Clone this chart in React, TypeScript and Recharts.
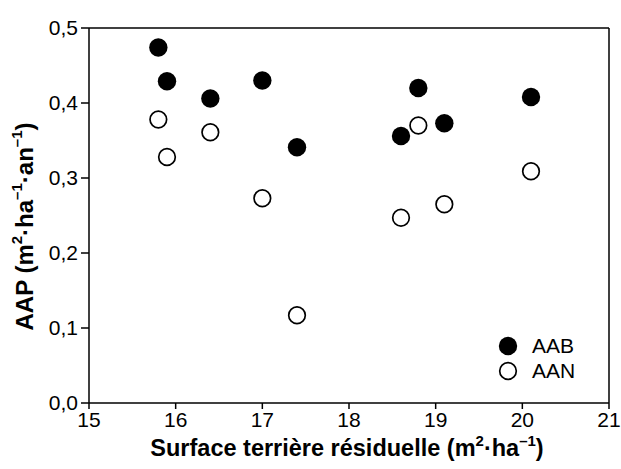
import React from 'react';
import { ScatterChart, Scatter, XAxis, YAxis, Label } from 'recharts';

const xValues = [15.8, 15.9, 16.4, 17.0, 17.4, 18.6, 18.8, 19.1, 20.1];
const aabValues = [0.474, 0.429, 0.406, 0.43, 0.341, 0.356, 0.42, 0.373, 0.408];
const aanValues = [0.378, 0.328, 0.361, 0.273, 0.117, 0.247, 0.37, 0.265, 0.309];
const xTicks = [15, 16, 17, 18, 19, 20, 21];
const yTicks = [0, 0.1, 0.2, 0.3, 0.4, 0.5];
const seriesNames = ['AAB', 'AAN'];

const aabData = xValues.map((x, i) => ({ x, y: aabValues[i] }));
const aanData = xValues.map((x, i) => ({ x, y: aanValues[i] }));

const FONT = '"Liberation Sans", Arial, sans-serif';

const FilledDot = (props: any) => {
  const { cx, cy } = props;
  return <circle cx={cx} cy={cy} r={9.2} fill="#000" />;
};
const OpenDot = (props: any) => {
  const { cx, cy } = props;
  return <circle cx={cx} cy={cy} r={8.3} fill="#fff" stroke="#000" strokeWidth={1.7} />;
};

const yFmt = (v: number) => v.toFixed(1).replace('.', ',');

const SUP = 15;
const UP = -8;

const YTitle = (props: any) => {
  const vb = props.viewBox || {};
  const x = (vb.x || 0) + 24;
  const y = (vb.y || 0) + (vb.height || 0) / 2 + 11;
  return (
    <text
      x={x}
      y={y}
      transform={`rotate(-90, ${x}, ${y})`}
      textAnchor="middle"
      dominantBaseline="central"
      fontFamily={FONT}
      fontWeight="bold"
      fontSize={24}
      fill="#000"
    >
      <tspan>AAP (m</tspan>
      <tspan dy={UP} fontSize={SUP}>2</tspan>
      <tspan dy={-UP}>·ha</tspan>
      <tspan dy={UP} fontSize={SUP}>–1</tspan>
      <tspan dy={-UP}>·an</tspan>
      <tspan dy={UP} fontSize={SUP}>–1</tspan>
      <tspan dy={-UP}>)</tspan>
    </text>
  );
};

const XTitle = (props: any) => {
  const vb = props.viewBox || {};
  const x = (vb.x || 0) + (vb.width || 0) / 2 - 2;
  const y = (vb.y || 0) + 45;
  return (
    <text
      x={x}
      y={y}
      textAnchor="middle"
      dominantBaseline="central"
      fontFamily={FONT}
      fontWeight="bold"
      fontSize={23.5}
      fill="#000"
    >
      <tspan>Surface terrière résiduelle (m</tspan>
      <tspan dy={UP} fontSize={SUP}>2</tspan>
      <tspan dy={-UP}>·ha</tspan>
      <tspan dy={UP} fontSize={SUP}>–1</tspan>
      <tspan dy={-UP}>)</tspan>
    </text>
  );
};

const LegendBox = () => (
  <div
    style={{
      position: 'absolute',
      left: 497,
      top: 333,
      width: 110,
      fontFamily: FONT,
      fontSize: 21,
      color: '#000',
    }}
  >
    {seriesNames.map((name, i) => (
      <div key={name} style={{ display: 'flex', alignItems: 'center', height: 25 }}>
        <svg width={22} height={22} style={{ display: 'block' }}>
          {i === 0 ? (
            <circle cx={11} cy={11} r={9.2} fill="#000" />
          ) : (
            <circle cx={11} cy={11} r={8.3} fill="#fff" stroke="#000" strokeWidth={1.7} />
          )}
        </svg>
        <span style={{ marginLeft: 13, lineHeight: '25px' }}>{name}</span>
      </div>
    ))}
  </div>
);

const tickStyle = { fontFamily: FONT, fontSize: 21, fill: '#000' };
const axisLine = { stroke: '#000', strokeWidth: 1.5 };

export default function App() {
  return (
    <div style={{ position: 'absolute', left: 0, top: 0, width: 621, height: 469, background: '#fff' }}>
      <ScatterChart
        width={621}
        height={469}
        margin={{ top: 28, right: 12, bottom: 0, left: 0 }}
        style={{ fontFamily: FONT }}
      >
        <XAxis
          type="number"
          dataKey="x"
          domain={[15, 21]}
          ticks={xTicks}
          allowDataOverflow
          height={66}
          tick={tickStyle}
          tickSize={6}
          tickMargin={3}
          axisLine={axisLine}
          tickLine={axisLine}
        >
          <Label content={<XTitle />} />
        </XAxis>
        <XAxis
          xAxisId="top"
          orientation="top"
          type="number"
          domain={[15, 21]}
          ticks={xTicks}
          mirror
          tick={false}
          tickSize={6}
          axisLine={axisLine}
          tickLine={axisLine}
        />
        <YAxis
          type="number"
          dataKey="y"
          domain={[0, 0.5]}
          ticks={yTicks}
          allowDataOverflow
          width={89}
          tick={tickStyle}
          tickFormatter={yFmt}
          tickSize={8}
          tickMargin={3}
          axisLine={axisLine}
          tickLine={axisLine}
        >
          <Label content={<YTitle />} />
        </YAxis>
        <YAxis
          yAxisId="right"
          orientation="right"
          type="number"
          domain={[0, 0.5]}
          ticks={yTicks}
          mirror
          tick={false}
          tickSize={6}
          axisLine={axisLine}
          tickLine={axisLine}
        />
        <Scatter name="AAB" data={aabData} shape={<FilledDot />} isAnimationActive={false} />
        <Scatter name="AAN" data={aanData} shape={<OpenDot />} isAnimationActive={false} />
      </ScatterChart>
      <LegendBox />
    </div>
  );
}
